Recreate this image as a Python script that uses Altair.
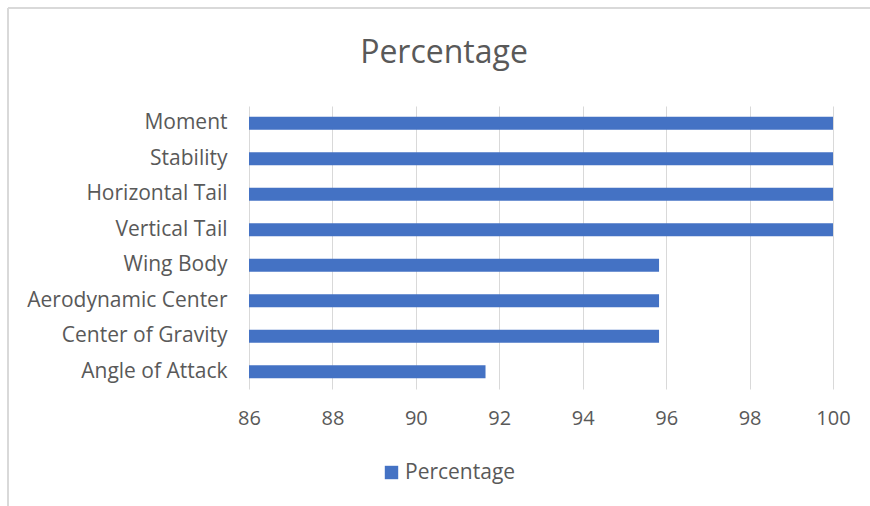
import altair as alt
import pandas as pd

categories = ["Moment", "Stability", "Horizontal Tail", "Vertical Tail",
              "Wing Body", "Aerodynamic Center", "Center of Gravity", "Angle of Attack"]
values = [100, 100, 100, 100, 95.83, 95.83, 95.83, 91.67]
x_ticks = [86, 88, 90, 92, 94, 96, 98, 100]
series_name = "Percentage"
chart_title = "Percentage"
x_min = 86

df = pd.DataFrame({
    "category": categories,
    "value": values,
    "base": [x_min] * len(categories),
    "series": [series_name] * len(categories),
})

FONT = "Open Sans"
GREY = "#595959"

bars = alt.Chart(df).mark_bar(color="#4472C4").encode(
    y=alt.Y("category:N", sort=categories, title=None,
            scale=alt.Scale(paddingInner=0.63, paddingOuter=0.3),
            axis=alt.Axis(labelFontSize=21, labelColor=GREY, labelFont=FONT, labelLimit=400,
                          ticks=False, domain=False, labelPadding=22, grid=False)),
    x=alt.X("value:Q", title=None,
            scale=alt.Scale(domain=[86, 100], zero=False, nice=False),
            axis=alt.Axis(values=x_ticks, labelFontSize=20, labelColor=GREY, labelFont=FONT,
                          ticks=False, domain=False, labelPadding=19, grid=True,
                          labelFlush=False, gridColor="#d9d9d9", gridWidth=1)),
    x2="base:Q",
    color=alt.Color("series:N", scale=alt.Scale(range=["#4472C4"]),
                    legend=alt.Legend(title=None, orient="none", legendX=132, legendY=356,
                                      symbolType="square", symbolSize=180,
                                      symbolStrokeWidth=0, labelFontSize=21,
                                      labelColor=GREY, labelFont=FONT, labelOffset=3)),
)

title_df = pd.DataFrame({"t": [chart_title]})
title = alt.Chart(title_df).mark_text(
    fontSize=32, color=GREY, font=FONT, align="center", baseline="alphabetic"
).encode(text="t:N", x=alt.value(195), y=alt.value(-43))

frame = alt.Chart(df).mark_rule(color="#d9d9d9", strokeWidth=2).encode(
    x=alt.value(-241), x2=alt.value(-241), y=alt.value(-98), y2=alt.value(420)
)
frame_top = alt.Chart(df).mark_rule(color="#d9d9d9", strokeWidth=2).encode(
    x=alt.value(-241), x2=alt.value(640), y=alt.value(-98), y2=alt.value(-98)
)

chart = alt.layer(bars, title, frame, frame_top).properties(
    width=584, height=283,
    padding={"left": 249, "top": 106, "right": 37, "bottom": 117},
    autosize=alt.AutoSizeParams(type="none"),
).configure_view(stroke=None)

chart.save("out.html", embed_options={"renderer": "svg", "actions": False})
